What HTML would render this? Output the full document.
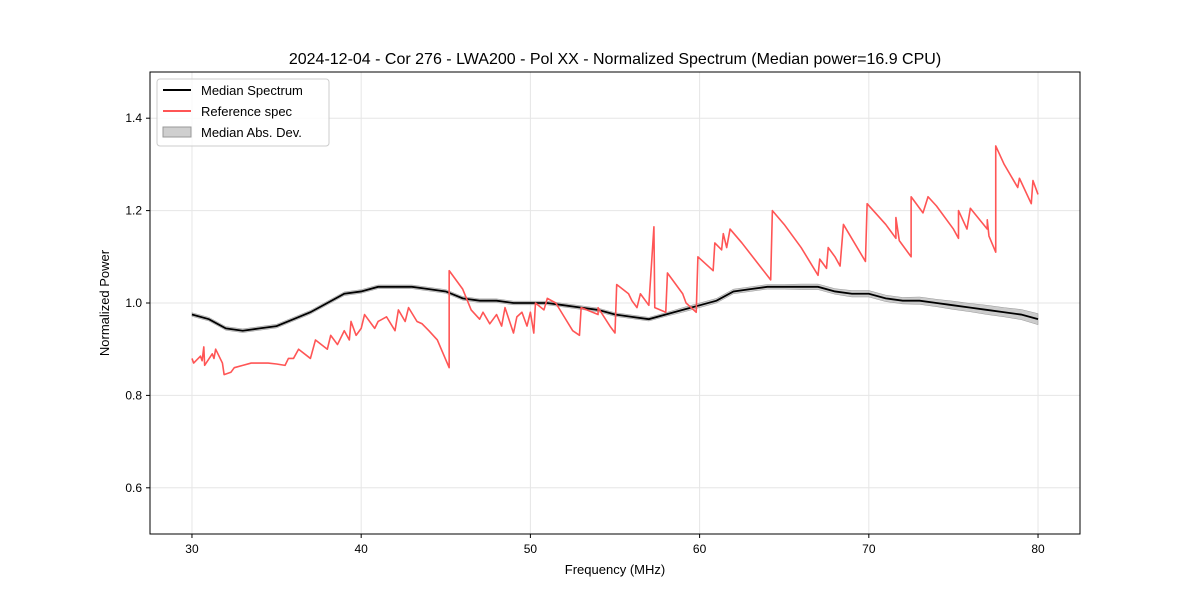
<!DOCTYPE html>
<html><head><meta charset="utf-8"><style>
body{margin:0;background:#fff;}
svg{display:block;font-family:"Liberation Sans","DejaVu Sans",sans-serif;}
</style></head><body>
<svg id="chart" width="1200" height="600">
<rect width="1200" height="600" fill="#fff"/>
<text x="615" y="64" text-anchor="middle" font-size="16">2024-12-04 - Cor 276 - LWA200 - Pol XX - Normalized Spectrum (Median power=16.9 CPU)</text>
<g id="grid"></g>
<g id="series"></g>
<rect x="150" y="72" width="930" height="462" fill="none" stroke="#000" stroke-width="1"/>
<g id="ticks"></g>
<text x="615" y="574" text-anchor="middle" font-size="13">Frequency (MHz)</text>
<text transform="translate(109,303) rotate(-90)" text-anchor="middle" font-size="13">Normalized Power</text>
<g>
<rect x="157" y="79" width="172" height="67" rx="3" fill="#fff" fill-opacity="0.8" stroke="#ccc"/>
<g><line x1="163" y1="90" x2="191" y2="90" stroke="#000" stroke-width="2"/><text x="201" y="95" font-size="13">Median Spectrum</text></g>
<g><line x1="163" y1="111" x2="191" y2="111" stroke="#ff5555" stroke-width="2"/><text x="201" y="116" font-size="13">Reference spec</text></g>
<g><rect x="163" y="127" width="28" height="10" fill="#bbb" fill-opacity="0.7" stroke="#999"/><text x="201" y="137" font-size="13">Median Abs. Dev.</text></g>
</g>
</svg>
<script>
const xTicks=[30,40,50,60,70,80];
const yTicks=[0.6,0.8,1.0,1.2,1.4];
const medFreq=[30,31,32,33,34,35,36,37,38,39,40,41,42,43,44,45,46,47,48,49,50,51,52,53,54,55,56,57,58,59,60,61,62,63,64,65,66,67,68,69,70,71,72,73,74,75,76,77,78,79,80];
const medVal=[0.975,0.965,0.945,0.94,0.945,0.95,0.965,0.98,1.0,1.02,1.025,1.035,1.035,1.035,1.03,1.025,1.01,1.005,1.005,1.0,1.0,1.0,0.995,0.99,0.985,0.975,0.97,0.965,0.975,0.985,0.995,1.005,1.025,1.03,1.035,1.035,1.035,1.035,1.025,1.02,1.02,1.01,1.005,1.005,1.0,0.995,0.99,0.985,0.98,0.975,0.965];
const madVal=[0.004,0.004,0.004,0.004,0.004,0.004,0.004,0.004,0.004,0.004,0.004,0.004,0.004,0.004,0.004,0.004,0.004,0.004,0.004,0.004,0.004,0.004,0.004,0.004,0.004,0.004,0.004,0.004,0.004,0.005,0.005,0.005,0.005,0.005,0.005,0.005,0.006,0.006,0.006,0.007,0.007,0.007,0.007,0.008,0.008,0.009,0.009,0.01,0.01,0.011,0.012];
const refFreq=[30,30.1,30.5,30.6,30.7,30.75,31.2,31.3,31.4,31.8,31.9,32.3,32.5,33,33.5,34,34.5,35,35.5,35.7,36,36.3,37,37.3,38,38.2,38.6,39,39.3,39.4,39.7,40,40.2,40.8,41,41.5,42,42.2,42.6,42.8,43.3,43.6,44,44.5,45.2,45.2,46,46.5,47,47.2,47.6,48,48.3,48.5,49,49.2,49.5,49.8,50,50.2,50.3,50.8,51,51.5,52,52.5,52.9,53,54,54,54.7,55,55.1,55.8,56,56.3,56.5,57,57.3,57.35,58,58.1,59,59.2,59.8,59.9,60.5,60.8,60.9,61.3,61.4,61.6,61.8,62.5,64.2,64.3,65,66,66.5,67,67.1,67.5,67.6,68,68.3,68.5,69.8,69.9,71,71.6,71.6,71.8,72.5,72.5,73.2,73.5,74,75,75.3,75.3,75.8,76,77,77,77.1,77.5,77.5,78,78.8,78.9,79.6,79.7,80];
const refVal=[0.88,0.87,0.885,0.875,0.905,0.865,0.89,0.88,0.9,0.87,0.845,0.85,0.86,0.865,0.87,0.87,0.87,0.868,0.865,0.88,0.88,0.9,0.88,0.92,0.9,0.93,0.91,0.94,0.92,0.96,0.93,0.945,0.975,0.945,0.96,0.97,0.94,0.985,0.96,0.99,0.96,0.955,0.94,0.92,0.86,1.07,1.03,0.985,0.965,0.98,0.955,0.975,0.95,0.99,0.935,0.97,0.98,0.95,0.98,0.935,1.0,0.985,1.01,1.0,0.97,0.94,0.93,0.99,0.975,0.99,0.95,0.935,1.04,1.02,1.005,0.99,1.02,0.995,1.165,0.99,0.98,1.065,1.02,1.0,0.98,1.1,1.08,1.07,1.13,1.115,1.15,1.12,1.16,1.13,1.05,1.2,1.17,1.12,1.09,1.06,1.095,1.075,1.12,1.1,1.08,1.17,1.09,1.215,1.17,1.14,1.185,1.135,1.1,1.23,1.195,1.23,1.21,1.16,1.14,1.2,1.16,1.205,1.16,1.18,1.145,1.11,1.34,1.3,1.25,1.27,1.215,1.265,1.235];

const L=150,R=1080,T=72,B=534,XMIN=27.52,XMAX=82.48,YMIN=0.5,YMAX=1.5;
const sx=f=>L+(f-XMIN)/(XMAX-XMIN)*(R-L);
const sy=v=>B-(v-YMIN)/(YMAX-YMIN)*(B-T);
const NS='http://www.w3.org/2000/svg';
function mk(tag,parent,attrs){const e=document.createElementNS(NS,tag);for(const k in attrs)e.setAttribute(k,attrs[k]);parent.appendChild(e);return e;}
const grid=document.getElementById('grid'),ticks=document.getElementById('ticks'),ser=document.getElementById('series');
xTicks.forEach(t=>{const x=sx(t);
 const g=mk('line',grid,{x1:x,x2:x,y1:T,y2:B,stroke:'#e6e6e6','stroke-width':1});
 
 
 const tk=mk('line',ticks,{x1:x,x2:x,y1:B,y2:B+4,stroke:'#000'});
 
 
 const tx=mk('text',ticks,{x:x,y:B+19,'text-anchor':'middle','font-size':12});tx.textContent=t;
 
 
});
yTicks.forEach(t=>{const y=sy(t);
 const g=mk('line',grid,{x1:L,x2:R,y1:y,y2:y,stroke:'#e6e6e6','stroke-width':1});
 
 
 const tk=mk('line',ticks,{x1:L-4,x2:L,y1:y,y2:y,stroke:'#000'});
 
 
 const tx=mk('text',ticks,{x:L-8,y:y+4,'text-anchor':'end','font-size':12});tx.textContent=t.toFixed(1);
 
 
});
let up=medFreq.map((f,i)=>sx(f)+','+sy(medVal[i]+madVal[i]));
let dn=medFreq.map((f,i)=>sx(f)+','+sy(medVal[i]-madVal[i])).reverse();
const band=mk('polygon',ser,{points:up.concat(dn).join(' '),fill:'#999','fill-opacity':0.5,stroke:'#999','stroke-width':0.5});


const med=mk('polyline',ser,{points:medFreq.map((f,i)=>sx(f)+','+sy(medVal[i])).join(' '),fill:'none',stroke:'#000','stroke-width':1.8});


const ref=mk('polyline',ser,{points:refFreq.map((f,i)=>sx(f)+','+sy(refVal[i])).join(' '),fill:'none',stroke:'#ff5555','stroke-width':1.6,'stroke-linejoin':'round'});


</script>
</body></html>
